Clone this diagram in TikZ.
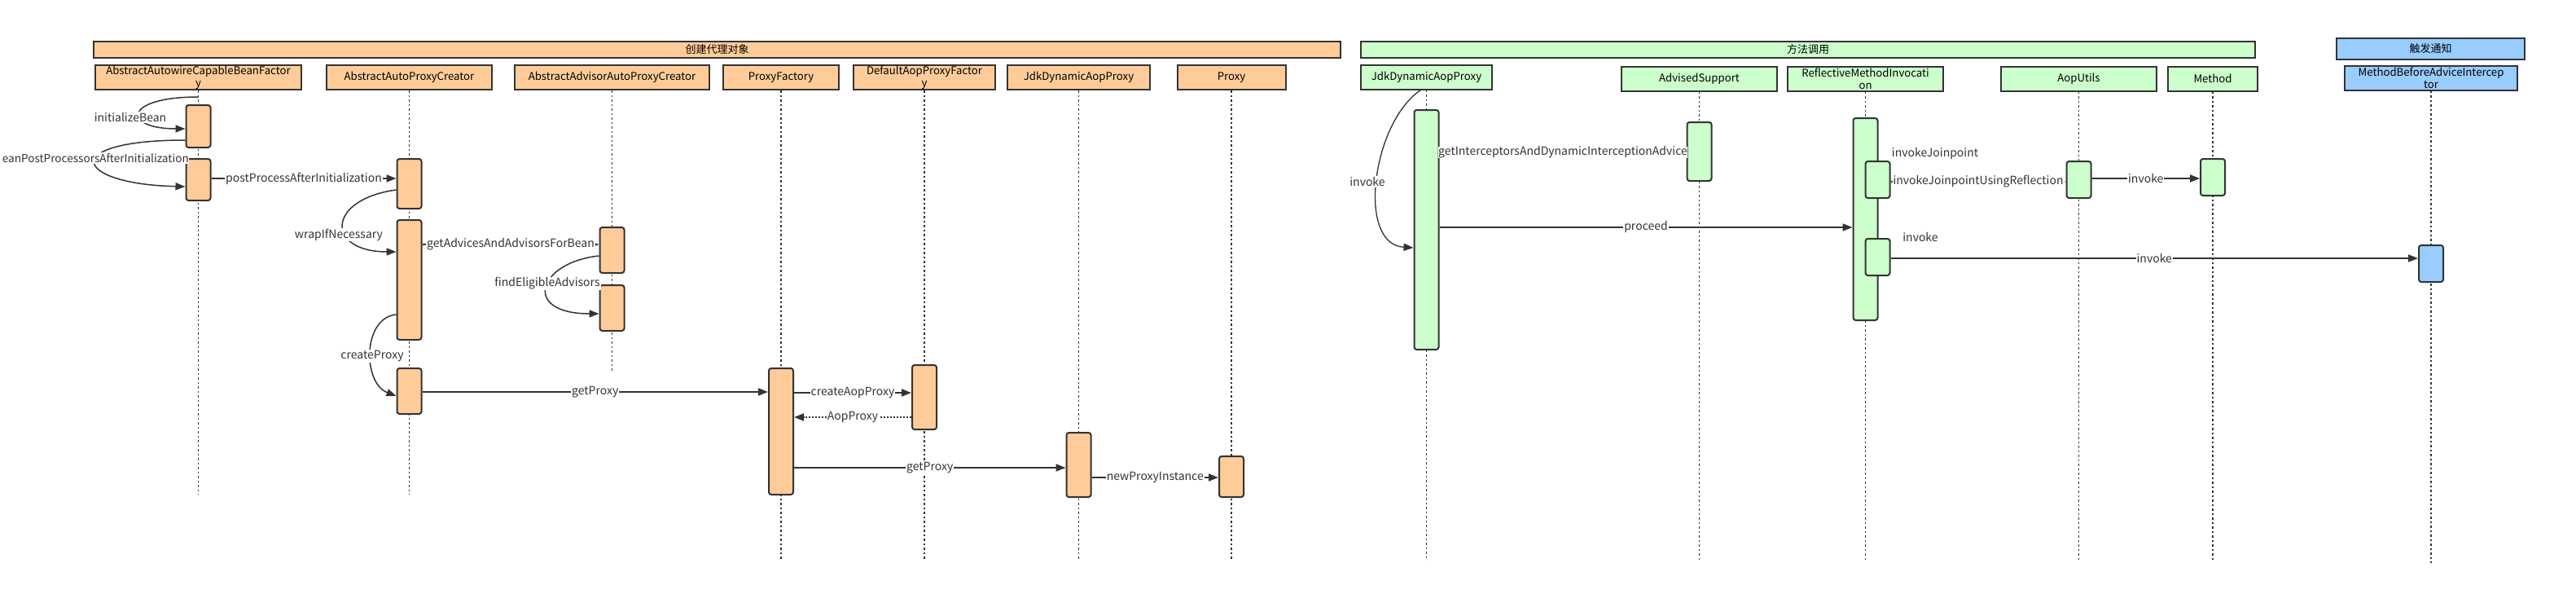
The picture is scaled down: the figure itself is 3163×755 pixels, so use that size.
\documentclass[tikz,border=0pt]{standalone}
\usepackage{fontspec}
\setmainfont{Noto Sans CJK SC}
\usetikzlibrary{arrows.meta}

\definecolor{orangebox}{HTML}{FFCC99}
\definecolor{greenbox}{HTML}{CCFFCC}
\definecolor{bluebox}{HTML}{99CCFF}
\definecolor{linegray}{HTML}{333333}

\newcommand\headfont{\fontsize{13.2}{15}\selectfont}
\newcommand\lblfont{\fontsize{14}{16}\selectfont}

\begin{document}
\begin{tikzpicture}[x=1pt,y=-1pt,
    banner/.style={draw=linegray,line width=2pt,minimum height=20pt,
      inner sep=0pt,font=\fontsize{13}{15}\selectfont},
    head/.style={draw=linegray,line width=2pt,minimum height=30pt,
      inner sep=0pt,align=center,font=\headfont},
    lifeline/.style={draw=linegray,line width=1.3pt,dash pattern=on 2.5pt off 3pt},
    bar/.style={draw=linegray,line width=2pt,rounded corners=3pt,
      minimum width=30pt,inner sep=0pt},
    msg/.style={draw=linegray,line width=1.8pt,
      -{Triangle[length=12pt,width=9pt]}},
    selfmsg/.style={msg,line width=1.5pt},
    retmsg/.style={msg,dash pattern=on 2pt off 2pt},
    lbl/.style={fill=white,inner sep=1pt,font=\lblfont,text=linegray}]

  % page
  \useasboundingbox (0,0) rectangle (3163,755);
  \fill[white] (0,0) rectangle (3163,755);

  % group banners
  \node[banner,fill=orangebox,minimum width=1531pt] (create) at (880.5,61) {创建代理对象};
  \node[banner,fill=greenbox,minimum width=1098pt] (call) at (2220,61) {方法调用};
  \node[banner,fill=bluebox,minimum width=231pt,minimum height=26pt] (notify) at (2984.5,60) {触发通知};

  % lifeline heads, create proxy
  \node[head,fill=orangebox,minimum width=253pt] (aacbf) at (243.5,95) {AbstractAutowireCapableBeanFactor\\y};
  \node[head,fill=orangebox,minimum width=203pt] (aapc) at (502.5,95) {AbstractAutoProxyCreator};
  \node[head,fill=orangebox,minimum width=239pt] (aaapc) at (751.5,95) {AbstractAdvisorAutoProxyCreator};
  \node[head,fill=orangebox,minimum width=142pt] (pf) at (959,95) {ProxyFactory};
  \node[head,fill=orangebox,minimum width=174pt] (dapf) at (1135,95) {DefaultAopProxyFactor\\y};
  \node[head,fill=orangebox,minimum width=175pt] (jdap) at (1324.5,95) {JdkDynamicAopProxy};
  \node[head,fill=orangebox,minimum width=133pt] (proxy) at (1512,95) {Proxy};

  % lifeline heads, method call
  \node[head,fill=greenbox,minimum width=161pt] (jdapc) at (1751.5,94.5) {JdkDynamicAopProxy};
  \node[head,fill=greenbox,minimum width=191pt] (as) at (2086.5,96.5) {AdvisedSupport};
  \node[head,fill=greenbox,minimum width=191pt] (rmi) at (2290.5,96.5) {ReflectiveMethodInvocati\\on};
  \node[head,fill=greenbox,minimum width=191pt] (au) at (2552.5,96.5) {AopUtils};
  \node[head,fill=greenbox,minimum width=110pt] (meth) at (2717,96.5) {Method};

  % lifeline head, advice
  \node[head,fill=bluebox,minimum width=212pt] (mbai) at (2985,95.5) {MethodBeforeAdviceIntercep\\tor};

  % lifelines
  \draw[lifeline] (aacbf.south) -- (aacbf.south |- 0,607);
  \draw[lifeline] (aapc.south) -- (aapc.south |- 0,607);
  \draw[lifeline] (aaapc.south) -- (aaapc.south |- 0,457);
  \draw[lifeline] (pf.south) -- (pf.south |- 0,687);
  \draw[lifeline] (dapf.south) -- (dapf.south |- 0,687);
  \draw[lifeline] (jdap.south) -- (jdap.south |- 0,687);
  \draw[lifeline] (proxy.south) -- (proxy.south |- 0,687);
  \draw[lifeline] (jdapc.south) -- (jdapc.south |- 0,688);
  \draw[lifeline] (as.south) -- (as.south |- 0,689);
  \draw[lifeline] (rmi.south) -- (rmi.south |- 0,689);
  \draw[lifeline] (au.south) -- (au.south |- 0,689);
  \draw[lifeline] (meth.south) -- (meth.south |- 0,689);
  \draw[lifeline] (mbai.south) -- (mbai.south |- 0,691);

  % activation bars, create proxy
  \node[bar,fill=orangebox,minimum height=52pt] (a1) at (aacbf |- 0,155) {};
  \node[bar,fill=orangebox,minimum height=51pt] (a2) at (aacbf |- 0,220.5) {};
  \node[bar,fill=orangebox,minimum height=61pt] (p1) at (aapc |- 0,225.5) {};
  \node[bar,fill=orangebox,minimum height=147pt] (p2) at (aapc |- 0,343.5) {};
  \node[bar,fill=orangebox,minimum height=56pt] (p3) at (aapc |- 0,480) {};
  \node[bar,fill=orangebox,minimum height=56pt] (v1) at (aaapc |- 0,307) {};
  \node[bar,fill=orangebox,minimum height=56pt] (v2) at (aaapc |- 0,378) {};
  \node[bar,fill=orangebox,minimum height=155pt] (f1) at (pf |- 0,529.5) {};
  \node[bar,fill=orangebox,minimum height=79pt] (d1) at (dapf |- 0,487.5) {};
  \node[bar,fill=orangebox,minimum height=79pt] (j1) at (jdap |- 0,570.5) {};
  \node[bar,fill=orangebox,minimum height=50pt] (x1) at (proxy |- 0,585) {};

  % activation bars, method call
  \node[bar,fill=greenbox,minimum height=294pt] (g1) at (jdapc |- 0,282) {};
  \node[bar,fill=greenbox,minimum height=72pt] (s1) at (as |- 0,186) {};
  \node[bar,fill=greenbox,minimum height=248pt] (r1) at (rmi |- 0,269) {};
  \node[bar,fill=greenbox,minimum height=45pt] (r2) at ([xshift=15pt]rmi |- 0,220.5) {};
  \node[bar,fill=greenbox,minimum height=45pt] (r3) at ([xshift=15pt]rmi |- 0,315.5) {};
  \node[bar,fill=greenbox,minimum height=45pt] (u1) at (au |- 0,220.5) {};
  \node[bar,fill=greenbox,minimum height=45pt] (m1) at (meth |- 0,217.5) {};
  \node[bar,fill=bluebox,minimum height=45pt] (n1) at (mbai |- 0,323.5) {};

  % messages, create proxy
  \draw[selfmsg] (aacbf.south |- 0,119) .. controls (150,119) and (150,158) .. (a1.west |- 0,158);
  \node[lbl] (initbean) at (160,144) {initializeBean};
  \draw[selfmsg] (a1.west |- 0,172) .. controls (70,172) and (90,226) .. (a2.west |- 0,229);
  \node[lbl,anchor=east,inner xsep=0pt,font=\fontsize{13.6}{16}\selectfont] (applybpp) at (232,194) {eanPostProcessorsAfterInitialization};
  \draw[msg] (a2.east |- 0,219) -- (p1.west |- 0,219)
    node[lbl,midway] (ppai) {postProcessAfterInitialization};
  \draw[selfmsg] (p1.west |- 0,233) .. controls (400,245) and (400,309) .. (p2.west |- 0,309);
  \node[lbl] (wrap) at (416,288) {wrapIfNecessary};
  \draw[msg] (p2.east |- 0,300) -- (v1.west |- 0,300)
    node[lbl,midway] (gaab) {getAdvicesAndAdvisorsForBean};
  \draw[selfmsg] (v1.west |- 0,314) .. controls (660,322) and (640,385) .. (v2.west |- 0,385);
  \node[lbl] (fea) at (672,348) {findEligibleAdvisors};
  \draw[selfmsg] (p2.west |- 0,386) .. controls (445,390) and (445,470) .. (p3.west |- 0,486);
  \node[lbl] (cp) at (457,437) {createProxy};
  \draw[msg] (p3.east |- 0,481) -- (f1.west |- 0,481)
    node[lbl,midway] (gp1) {getProxy};
  \draw[msg] (f1.east |- 0,482) -- (d1.west |- 0,482)
    node[lbl,midway] (cap) {createAopProxy};
  \draw[retmsg] (d1.west |- 0,512) -- (f1.east |- 0,512)
    node[lbl,midway] (aop) {AopProxy};
  \draw[msg] (f1.east |- 0,574) -- (j1.west |- 0,574)
    node[lbl,midway] (gp2) {getProxy};
  \draw[msg] (j1.east |- 0,586) -- (x1.west |- 0,586)
    node[lbl,midway] (npi) {newProxyInstance};

  % messages, method call
  \draw[selfmsg,line width=1.3pt] ([xshift=-7pt]jdapc.south) .. controls (1685,150) and (1665,300) .. (g1.west |- 0,304);
  \node[lbl] (inv1) at (1679,223) {invoke};
  \draw[msg] (g1.east |- 0,187) -- (s1.west |- 0,187)
    node[lbl,midway,inner sep=0pt] (giad) {getInterceptorsAndDynamicInterceptionAdvice};
  \draw[msg] (g1.east |- 0,279) -- (r1.west |- 0,279)
    node[lbl,midway] (proc) {proceed};
  \node[lbl] (ijp) at (2376,189) {invokeJoinpoint};
  \draw[msg] (r2.east |- 0,223) -- (u1.west |- 0,223)
    node[lbl,midway] (ijur) {invokeJoinpointUsingReflection};
  \draw[msg] (u1.east |- 0,219) -- (m1.west |- 0,219)
    node[lbl,midway] (inv2) {invoke};
  \node[lbl] (inv3) at (2358,291) {invoke};
  \draw[msg] (r3.east |- 0,317) -- (n1.west |- 0,317)
    node[lbl,midway] (inv4) {invoke};
\end{tikzpicture}
\end{document}
